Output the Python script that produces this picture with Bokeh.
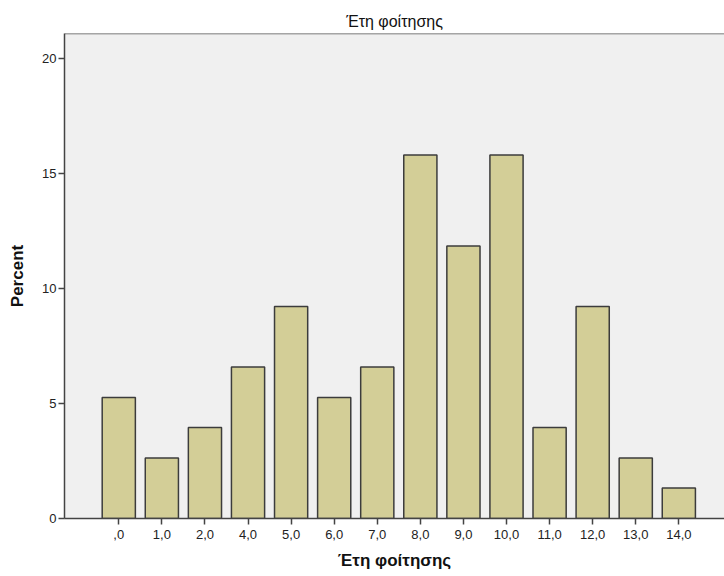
from bokeh.plotting import figure
from bokeh.models import Range1d, FixedTicker, Span, ColumnDataSource
from bokeh.embed import file_html
from bokeh.resources import INLINE

# Data
categories = [",0", "1,0", "2,0", "4,0", "5,0", "6,0", "7,0", "8,0", "9,0",
              "10,0", "11,0", "12,0", "13,0", "14,0"]
percent = [5.26, 2.63, 3.95, 6.58, 9.21, 5.26, 6.58, 15.79, 11.84, 15.79,
           3.95, 9.21, 2.63, 1.32]
y_ticks = [0, 5, 10, 15, 20]
title_text = "Έτη φοίτησης"
x_label = "Έτη φοίτησης"
y_label = "Percent"

positions = list(range(len(categories)))
src = ColumnDataSource(dict(x=positions, top=percent))

Y_END = 21.07
p = figure(width=724, height=576, output_backend="svg", toolbar_location=None,
           x_range=Range1d(-1.260, 14.06), y_range=Range1d(0, Y_END),
           min_border_left=64, min_border_right=0, min_border_top=33,
           min_border_bottom=58, background_fill_color="#F0F0F0",
           border_fill_color="white", outline_line_color=None)

p.title.text = title_text
p.title.align = "center"
p.title.text_font = "Liberation Sans"
p.title.text_font_size = "16px"
p.title.text_font_style = "normal"
p.title.text_color = "#111111"
p.title.standoff = 8

p.vbar(x="x", top="top", width=0.77, source=src, fill_color="#D3CE97",
       line_color="#3C3C3C", line_width=1.5)

p.add_layout(Span(location=Y_END, dimension="width", line_color="#555555",
                  line_width=1.5, level="overlay"))

p.xgrid.visible = False
p.ygrid.visible = False

for ax in (p.xaxis, p.yaxis):
    ax.axis_line_color = "#444444"
    ax.axis_line_width = 1.5
    ax.major_tick_line_color = "#444444"
    ax.major_tick_line_width = 1.5
    ax.major_tick_out = 6
    ax.major_tick_in = 0
    ax.minor_tick_line_color = None
    ax.major_label_text_font = "Liberation Sans"
    ax.major_label_text_font_size = "13px"
    ax.major_label_text_color = "#222222"
    ax.axis_label_text_font = "Liberation Sans"
    ax.axis_label_text_font_size = "17px"
    ax.axis_label_text_font_style = "bold"
    ax.axis_label_text_color = "#111111"

p.xaxis.ticker = FixedTicker(ticks=positions)
p.xaxis.major_label_overrides = {i: c for i, c in zip(positions, categories)}
p.xaxis.axis_label = x_label
p.xaxis.major_label_standoff = 5
p.xaxis.axis_label_standoff = 9

p.yaxis.ticker = FixedTicker(ticks=y_ticks)
p.yaxis.axis_label = y_label
p.yaxis.major_label_standoff = 2
p.yaxis.axis_label_standoff = 12

open("out.html", "w").write(file_html(p, INLINE))
